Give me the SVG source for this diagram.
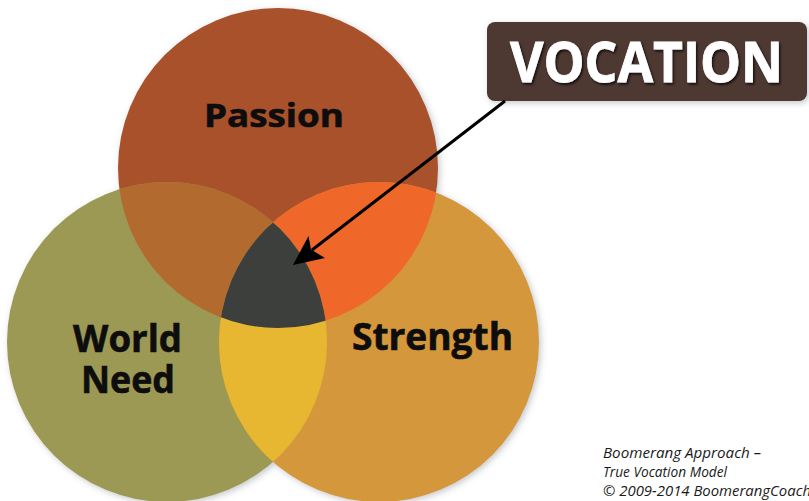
<svg xmlns="http://www.w3.org/2000/svg" width="809" height="501" viewBox="0 0 809 501">
  <style>
    .label { font-family: "Open Sans", "Noto Sans", "Liberation Sans", sans-serif; font-weight: 700; fill: #0d0d0d; stroke: #0d0d0d; stroke-width: 0.6px; }
    .title { font-family: "Open Sans", "Noto Sans", "Liberation Sans", sans-serif; font-weight: 700; fill: #ffffff; stroke: #ffffff; stroke-width: 0.8px; }
    .note { font-family: "Open Sans", "Liberation Sans", sans-serif; font-style: italic; font-size: 14px; fill: #1a1a1a; }
  </style>
  <defs>
    <clipPath id="clipPassion"><circle cx="278" cy="168" r="160"/></clipPath>
    <clipPath id="clipWorld"><circle cx="167" cy="342" r="160"/></clipPath>
    <clipPath id="clipStrength"><circle cx="379" cy="342" r="160"/></clipPath>
    <filter id="softShadow" x="-10%" y="-10%" width="120%" height="120%">
      <feDropShadow dx="2" dy="2" stdDeviation="3" flood-color="#5a6470" flood-opacity="0.35"/>
    </filter>
    <filter id="textShadow" x="-10%" y="-25%" width="120%" height="150%">
      <feDropShadow dx="1.5" dy="2" stdDeviation="1.2" flood-color="#000000" flood-opacity="0.7"/>
    </filter>
  </defs>

  <rect width="809" height="501" fill="#ffffff"/>

  <!-- base circles -->
  <g filter="url(#softShadow)">
    <g id="node-passion-shape"><circle cx="278" cy="168" r="160" fill="#A8512B"/></g>
    <g id="node-world-need-shape"><circle cx="167" cy="342" r="160" fill="#9C9955"/></g>
    <g id="node-strength-shape"><circle cx="379" cy="342" r="160" fill="#D4973A"/></g>
  </g>

  <!-- pairwise overlaps -->
  <g id="overlaps">
    <circle cx="167" cy="342" r="160" fill="#B26A2F" clip-path="url(#clipPassion)"/>
    <circle cx="379" cy="342" r="160" fill="#EF682A" clip-path="url(#clipPassion)"/>
    <circle cx="379" cy="342" r="160" fill="#E8B731" clip-path="url(#clipWorld)"/>
    <!-- triple overlap -->
    <g id="node-vocation-core" clip-path="url(#clipPassion)">
      <circle cx="379" cy="342" r="160" fill="#3D3F3D" clip-path="url(#clipWorld)"/>
    </g>
  </g>

  <!-- circle labels -->
  <g id="node-passion">
    <text class="label" x="204" y="127" font-size="32" textLength="140" lengthAdjust="spacingAndGlyphs">Passion</text>
  </g>
  <g id="node-world-need">
    <text class="label" x="73" y="352" font-size="38" textLength="109" lengthAdjust="spacingAndGlyphs">World</text>
    <text class="label" x="81" y="393" font-size="38" textLength="94" lengthAdjust="spacingAndGlyphs">Need</text>
  </g>
  <g id="node-strength">
    <text class="label" x="352" y="350" font-size="37" textLength="161" lengthAdjust="spacingAndGlyphs">Strength</text>
  </g>

  <!-- callout box -->
  <g id="node-vocation">
    <rect x="487" y="22" width="320" height="79" rx="8" fill="#4E3933" filter="url(#softShadow)"/>
    <text class="title" x="510" y="82" font-size="56" textLength="273" lengthAdjust="spacingAndGlyphs" filter="url(#textShadow)">VOCATION</text>
  </g>

  <!-- pointer from callout to the triple overlap -->
  <g id="connectors">
    <line x1="505" y1="101" x2="312" y2="250" stroke="#000000" stroke-width="3"/>
    <path d="M293,265 L308.5,236 L311,249.5 L325,258 Z" fill="#000000"/>
  </g>

  <!-- credit note -->
  <g id="credit">
    <text class="note" x="603" y="458" textLength="158" lengthAdjust="spacingAndGlyphs">Boomerang Approach –</text>
    <text class="note" x="603" y="477" textLength="124" lengthAdjust="spacingAndGlyphs">True Vocation Model</text>
    <text class="note" x="603" y="496" textLength="208" lengthAdjust="spacingAndGlyphs">© 2009-2014 BoomerangCoach</text>
  </g>
</svg>
